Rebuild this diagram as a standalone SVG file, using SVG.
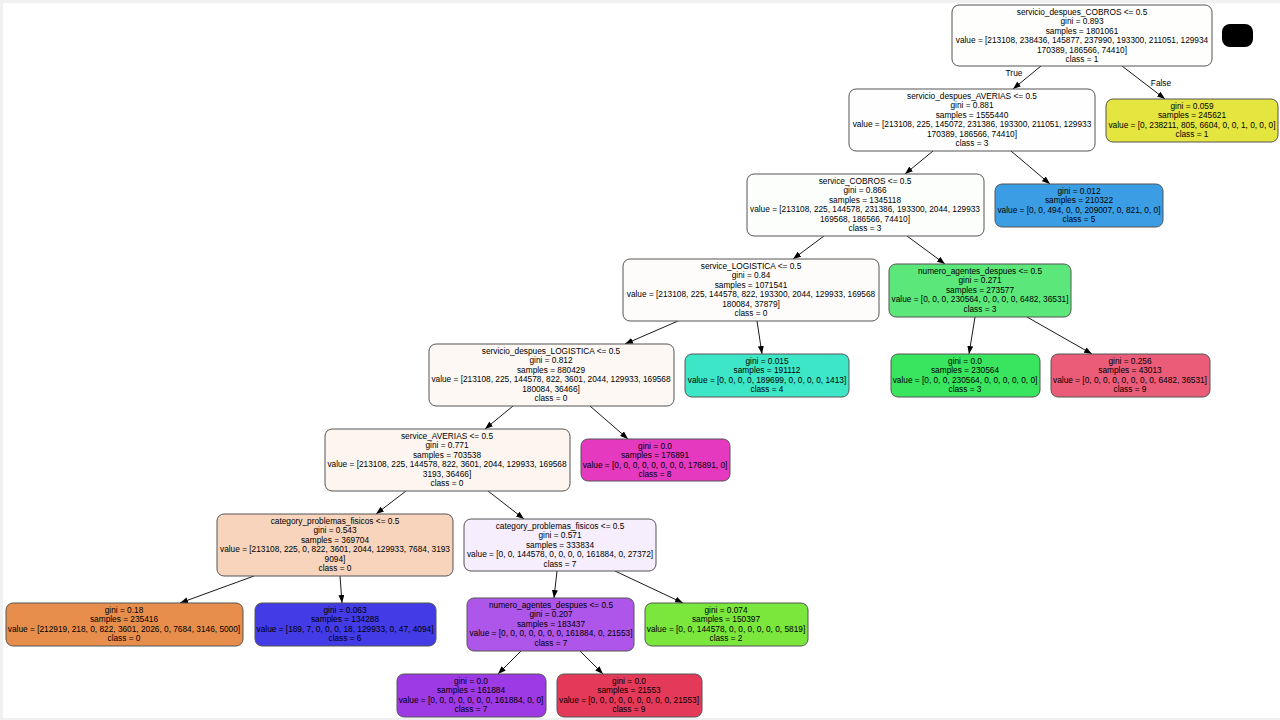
<svg xmlns="http://www.w3.org/2000/svg" width="1280" height="720" viewBox="0 0 1280 720">
<defs>
<style>
.n rect{stroke:#555;stroke-width:1}
.n text,.lbl{font-family:"Liberation Sans",Arial,sans-serif;font-size:8.3px;text-anchor:middle;fill:#000}
.e line{stroke:#000;stroke-width:0.9;marker-end:url(#ah)}
</style>
<marker id="ah" markerWidth="8" markerHeight="6" refX="8" refY="3" orient="auto" markerUnits="userSpaceOnUse">
<path d="M0,0 L8,3 L0,6 z" fill="#000"/>
</marker>
</defs>
<rect x="0" y="0" width="1280" height="720" fill="#f0f0f0"/>
<rect x="3" y="3" width="1277" height="715" fill="#fff"/>
<rect x="1222" y="24" width="31" height="23" rx="8" fill="#000"/>

<g id="edges" class="e">
<line x1="1041" y1="66" x2="1013" y2="89"/>
<line x1="1122" y1="66" x2="1165" y2="99"/>
<line x1="933" y1="151" x2="905" y2="174"/>
<line x1="1011" y1="151" x2="1050" y2="184"/>
<line x1="824" y1="236" x2="793" y2="259"/>
<line x1="907" y1="236" x2="945" y2="264"/>
<line x1="678" y1="321" x2="625" y2="344"/>
<line x1="757" y1="321" x2="762" y2="354"/>
<line x1="975" y1="317" x2="969" y2="354"/>
<line x1="1027" y1="317" x2="1092" y2="354"/>
<line x1="513" y1="406" x2="485" y2="429"/>
<line x1="590" y1="406" x2="628" y2="439"/>
<line x1="406" y1="491" x2="376" y2="514"/>
<line x1="488" y1="491" x2="524" y2="519"/>
<line x1="254" y1="576" x2="180" y2="603"/>
<line x1="340" y1="576" x2="342" y2="603"/>
<line x1="557" y1="571" x2="554" y2="598"/>
<line x1="615" y1="571" x2="683" y2="603"/>
<line x1="521" y1="651" x2="498" y2="674"/>
<line x1="580" y1="651" x2="603" y2="674"/>
<text class="lbl" x="1014" y="76">True</text>
<text class="lbl" x="1161" y="86">False</text>
</g>

<g id="n0" class="n">
<rect x="952" y="5" width="260" height="61" rx="7" fill="#fefefd"/>
<text x="1082" y="14.7"><tspan x="1082">servicio_despues_COBROS &lt;= 0.5</tspan><tspan x="1082" dy="9.5">gini = 0.893</tspan><tspan x="1082" dy="9.5">samples = 1801061</tspan><tspan x="1082" dy="9.5">value = [213108, 238436, 145877, 237990, 193300, 211051, 129934</tspan><tspan x="1082" dy="9.5">170389, 186566, 74410]</tspan><tspan x="1082" dy="9.5">class = 1</tspan></text>
</g>

<g id="n1" class="n">
<rect x="849" y="89" width="246" height="62" rx="7" fill="#fdfefd"/>
<text x="972" y="98.7"><tspan x="972">servicio_despues_AVERIAS &lt;= 0.5</tspan><tspan x="972" dy="9.5">gini = 0.881</tspan><tspan x="972" dy="9.5">samples = 1555440</tspan><tspan x="972" dy="9.5">value = [213108, 225, 145072, 231386, 193300, 211051, 129933</tspan><tspan x="972" dy="9.5">170389, 186566, 74410]</tspan><tspan x="972" dy="9.5">class = 3</tspan></text>
</g>

<g id="n2" class="n">
<rect x="1106" y="99" width="172" height="43" rx="7" fill="#e5e53f"/>
<text x="1192" y="108.7"><tspan x="1192">gini = 0.059</tspan><tspan x="1192" dy="9.5">samples = 245621</tspan><tspan x="1192" dy="9.5">value = [0, 238211, 805, 6604, 0, 0, 1, 0, 0, 0]</tspan><tspan x="1192" dy="9.5">class = 1</tspan></text>
</g>

<g id="n3" class="n">
<rect x="747" y="174" width="237" height="62" rx="7" fill="#fcfefc"/>
<text x="865" y="183.7"><tspan x="865">service_COBROS &lt;= 0.5</tspan><tspan x="865" dy="9.5">gini = 0.866</tspan><tspan x="865" dy="9.5">samples = 1345118</tspan><tspan x="865" dy="9.5">value = [213108, 225, 144578, 231386, 193300, 2044, 129933</tspan><tspan x="865" dy="9.5">169568, 186566, 74410]</tspan><tspan x="865" dy="9.5">class = 3</tspan></text>
</g>

<g id="n4" class="n">
<rect x="995" y="184" width="168" height="43" rx="7" fill="#3b9ee5"/>
<text x="1079" y="193.7"><tspan x="1079">gini = 0.012</tspan><tspan x="1079" dy="9.5">samples = 210322</tspan><tspan x="1079" dy="9.5">value = [0, 0, 494, 0, 0, 209007, 0, 821, 0, 0]</tspan><tspan x="1079" dy="9.5">class = 5</tspan></text>
</g>

<g id="n5" class="n">
<rect x="623" y="259" width="256" height="62" rx="7" fill="#fefcfb"/>
<text x="751" y="268.7"><tspan x="751">service_LOGISTICA &lt;= 0.5</tspan><tspan x="751" dy="9.5">gini = 0.84</tspan><tspan x="751" dy="9.5">samples = 1071541</tspan><tspan x="751" dy="9.5">value = [213108, 225, 144578, 822, 193300, 2044, 129933, 169568</tspan><tspan x="751" dy="9.5">180084, 37879]</tspan><tspan x="751" dy="9.5">class = 0</tspan></text>
</g>

<g id="n6" class="n">
<rect x="889" y="264" width="182" height="53" rx="7" fill="#5ce77b"/>
<text x="980" y="273.7"><tspan x="980">numero_agentes_despues &lt;= 0.5</tspan><tspan x="980" dy="9.5">gini = 0.271</tspan><tspan x="980" dy="9.5">samples = 273577</tspan><tspan x="980" dy="9.5">value = [0, 0, 0, 230564, 0, 0, 0, 0, 6482, 36531]</tspan><tspan x="980" dy="9.5">class = 3</tspan></text>
</g>

<g id="n7" class="n">
<rect x="429" y="344" width="245" height="62" rx="7" fill="#fdf8f4"/>
<text x="551" y="353.7"><tspan x="551">servicio_despues_LOGISTICA &lt;= 0.5</tspan><tspan x="551" dy="9.5">gini = 0.812</tspan><tspan x="551" dy="9.5">samples = 880429</tspan><tspan x="551" dy="9.5">value = [213108, 225, 144578, 822, 3601, 2044, 129933, 169568</tspan><tspan x="551" dy="9.5">180084, 36466]</tspan><tspan x="551" dy="9.5">class = 0</tspan></text>
</g>

<g id="n8" class="n">
<rect x="685" y="354" width="164" height="43" rx="7" fill="#3de6c6"/>
<text x="767" y="363.7"><tspan x="767">gini = 0.015</tspan><tspan x="767" dy="9.5">samples = 191112</tspan><tspan x="767" dy="9.5">value = [0, 0, 0, 0, 189699, 0, 0, 0, 0, 1413]</tspan><tspan x="767" dy="9.5">class = 4</tspan></text>
</g>

<g id="n9" class="n">
<rect x="891" y="354" width="149" height="43" rx="7" fill="#39e55f"/>
<text x="965" y="363.7"><tspan x="965">gini = 0.0</tspan><tspan x="965" dy="9.5">samples = 230564</tspan><tspan x="965" dy="9.5">value = [0, 0, 0, 230564, 0, 0, 0, 0, 0, 0]</tspan><tspan x="965" dy="9.5">class = 3</tspan></text>
</g>

<g id="n10" class="n">
<rect x="1051" y="354" width="159" height="43" rx="7" fill="#eb5c78"/>
<text x="1130" y="363.7"><tspan x="1130">gini = 0.256</tspan><tspan x="1130" dy="9.5">samples = 43013</tspan><tspan x="1130" dy="9.5">value = [0, 0, 0, 0, 0, 0, 0, 0, 6482, 36531]</tspan><tspan x="1130" dy="9.5">class = 9</tspan></text>
</g>

<g id="n11" class="n">
<rect x="325" y="429" width="245" height="62" rx="7" fill="#fdf5f0"/>
<text x="447" y="438.7"><tspan x="447">service_AVERIAS &lt;= 0.5</tspan><tspan x="447" dy="9.5">gini = 0.771</tspan><tspan x="447" dy="9.5">samples = 703538</tspan><tspan x="447" dy="9.5">value = [213108, 225, 144578, 822, 3601, 2044, 129933, 169568</tspan><tspan x="447" dy="9.5">3193, 36466]</tspan><tspan x="447" dy="9.5">class = 0</tspan></text>
</g>

<g id="n12" class="n">
<rect x="581" y="439" width="149" height="42" rx="7" fill="#e539c0"/>
<text x="655" y="448.7"><tspan x="655">gini = 0.0</tspan><tspan x="655" dy="9.5">samples = 176891</tspan><tspan x="655" dy="9.5">value = [0, 0, 0, 0, 0, 0, 0, 0, 176891, 0]</tspan><tspan x="655" dy="9.5">class = 8</tspan></text>
</g>

<g id="n13" class="n">
<rect x="217" y="514" width="236" height="62" rx="7" fill="#f7d4bb"/>
<text x="335" y="523.7"><tspan x="335">category_problemas_fisicos &lt;= 0.5</tspan><tspan x="335" dy="9.5">gini = 0.543</tspan><tspan x="335" dy="9.5">samples = 369704</tspan><tspan x="335" dy="9.5">value = [213108, 225, 0, 822, 3601, 2044, 129933, 7684, 3193</tspan><tspan x="335" dy="9.5">9094]</tspan><tspan x="335" dy="9.5">class = 0</tspan></text>
</g>

<g id="n14" class="n">
<rect x="464" y="519" width="192" height="52" rx="7" fill="#f6edfd"/>
<text x="560" y="528.7"><tspan x="560">category_problemas_fisicos &lt;= 0.5</tspan><tspan x="560" dy="9.5">gini = 0.571</tspan><tspan x="560" dy="9.5">samples = 333834</tspan><tspan x="560" dy="9.5">value = [0, 0, 144578, 0, 0, 0, 0, 161884, 0, 27372]</tspan><tspan x="560" dy="9.5">class = 7</tspan></text>
</g>

<g id="n15" class="n">
<rect x="6" y="603" width="237" height="43" rx="7" fill="#e88e4d"/>
<text x="124" y="612.7"><tspan x="124">gini = 0.18</tspan><tspan x="124" dy="9.5">samples = 235416</tspan><tspan x="124" dy="9.5">value = [212919, 218, 0, 822, 3601, 2026, 0, 7684, 3146, 5000]</tspan><tspan x="124" dy="9.5">class = 0</tspan></text>
</g>

<g id="n16" class="n">
<rect x="255" y="603" width="181" height="43" rx="7" fill="#433be5"/>
<text x="345" y="612.7"><tspan x="345">gini = 0.063</tspan><tspan x="345" dy="9.5">samples = 134288</tspan><tspan x="345" dy="9.5">value = [189, 7, 0, 0, 0, 18, 129933, 0, 47, 4094]</tspan><tspan x="345" dy="9.5">class = 6</tspan></text>
</g>

<g id="n17" class="n">
<rect x="467" y="598" width="167" height="53" rx="7" fill="#ad56e9"/>
<text x="551" y="607.7"><tspan x="551">numero_agentes_despues &lt;= 0.5</tspan><tspan x="551" dy="9.5">gini = 0.207</tspan><tspan x="551" dy="9.5">samples = 183437</tspan><tspan x="551" dy="9.5">value = [0, 0, 0, 0, 0, 0, 0, 161884, 0, 21553]</tspan><tspan x="551" dy="9.5">class = 7</tspan></text>
</g>

<g id="n18" class="n">
<rect x="645" y="603" width="163" height="43" rx="7" fill="#7be63b"/>
<text x="726" y="612.7"><tspan x="726">gini = 0.074</tspan><tspan x="726" dy="9.5">samples = 150397</tspan><tspan x="726" dy="9.5">value = [0, 0, 144578, 0, 0, 0, 0, 0, 0, 5819]</tspan><tspan x="726" dy="9.5">class = 2</tspan></text>
</g>

<g id="n19" class="n">
<rect x="397" y="674" width="149" height="43" rx="7" fill="#9d39e5"/>
<text x="471" y="683.7"><tspan x="471">gini = 0.0</tspan><tspan x="471" dy="9.5">samples = 161884</tspan><tspan x="471" dy="9.5">value = [0, 0, 0, 0, 0, 0, 0, 161884, 0, 0]</tspan><tspan x="471" dy="9.5">class = 7</tspan></text>
</g>

<g id="n20" class="n">
<rect x="557" y="674" width="145" height="43" rx="7" fill="#e5395a"/>
<text x="629" y="683.7"><tspan x="629">gini = 0.0</tspan><tspan x="629" dy="9.5">samples = 21553</tspan><tspan x="629" dy="9.5">value = [0, 0, 0, 0, 0, 0, 0, 0, 0, 21553]</tspan><tspan x="629" dy="9.5">class = 9</tspan></text>
</g>
</svg>
